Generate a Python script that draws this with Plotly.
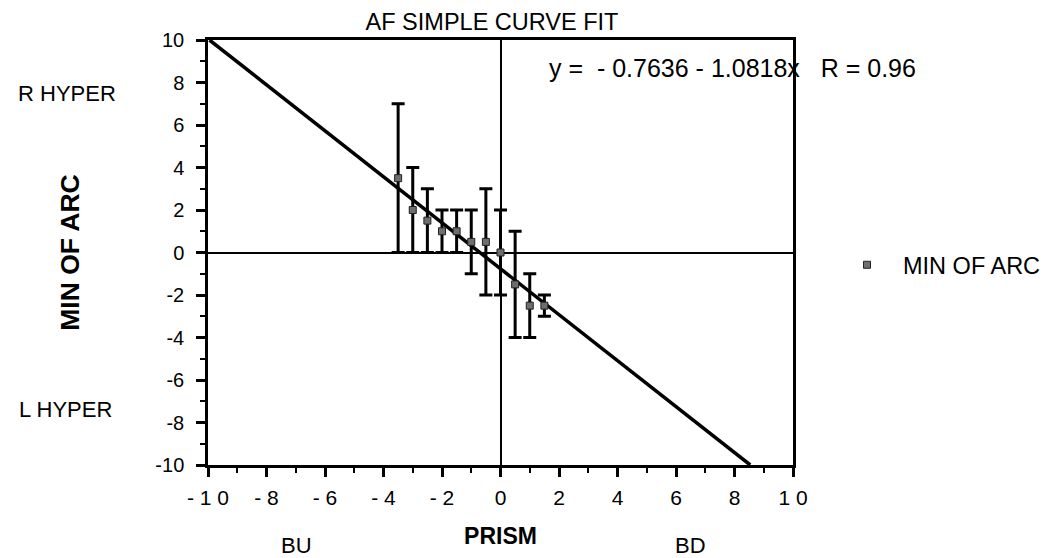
import plotly.graph_objects as go

# Data
prism = [-3.5, -3.0, -2.5, -2.0, -1.5, -1.0, -0.5, 0.0, 0.5, 1.0, 1.5]
min_of_arc = [3.5, 2.0, 1.5, 1.0, 1.0, 0.5, 0.5, 0.0, -1.5, -2.5, -2.5]
err = [3.5, 2.0, 1.5, 1.0, 1.0, 1.5, 2.5, 2.0, 2.5, 1.5, 0.5]

# Fit coefficients as printed on the chart
intercept = -0.7636
slope = -1.0818
r_value = 0.96

x_ticks = [-10, -8, -6, -4, -2, 0, 2, 4, 6, 8, 10]
x_ticktext = ["- 1 0", "- 8", "- 6", "- 4", "- 2", "0", "2", "4", "6", "8", "1 0"]
y_ticks = [-10, -8, -6, -4, -2, 0, 2, 4, 6, 8, 10]
y_ticktext = ["-10", "-8", "-6", "-4", "-2", "0", "2", "4", "6", "8", "10"]

# fit line end points where it meets the y = +/-10 frame
x_start = (10 - intercept) / slope
x_end = (-10 - intercept) / slope
fit_x = [x_start, x_end]
fit_y = [intercept + slope * x for x in fit_x]

FONT = "Liberation Sans, Arial, Helvetica, sans-serif"
W, H = 1050, 558
L, R, T, B = 208, 257, 40, 93
PW, PH = W - L - R, H - T - B


def px(x):
    return (x - L) / PW


def py(y):
    return (H - B - y) / PH


fig = go.Figure()
fig.add_trace(go.Scatter(
    x=fit_x, y=fit_y, mode="lines",
    line=dict(color="black", width=3.5),
    showlegend=False, hoverinfo="skip",
))
fig.add_trace(go.Scatter(
    x=prism, y=min_of_arc, mode="markers", name="MIN OF ARC",
    marker=dict(symbol="square", size=7, color="#6e6e6e",
                line=dict(color="#222222", width=1)),
    error_y=dict(type="data", array=err, visible=True,
                 color="black", thickness=3, width=6.5),
))

axis_common = dict(
    showgrid=False,
    showline=True, mirror=True, linecolor="black", linewidth=2.5,
    zeroline=True, zerolinecolor="black", zerolinewidth=2,
    ticks="outside", ticklen=9, tickwidth=2.5, tickcolor="black",
    minor=dict(ticks="outside", dtick=1, ticklen=5, tickwidth=2, tickcolor="black"),
)

fig.update_xaxes(
    range=[-10, 10], tickmode="array", tickvals=x_ticks, ticktext=x_ticktext,
    tickfont=dict(family=FONT, size=21, color="black"),
    ticklabelstandoff=3,
    title=dict(text="<b>PRISM</b>", font=dict(family=FONT, size=23, color="black"),
               standoff=20),
    **axis_common,
)
fig.update_yaxes(
    range=[-10, 10], tickmode="array", tickvals=y_ticks, ticktext=y_ticktext,
    tickfont=dict(family=FONT, size=20, color="black"),
    ticklabelstandoff=8,
    title=dict(text="<b>MIN OF ARC</b>", font=dict(family=FONT, size=26.5, color="black"),
               standoff=69),
    **axis_common,
)

annotations = [
    dict(text=f"y =  - {abs(intercept):.4f} - {abs(slope):.4f}x   R = {r_value:.2f}",
         xref="paper", yref="paper", x=px(547), y=py(68),
         xanchor="left", yanchor="middle", showarrow=False,
         font=dict(family=FONT, size=25, color="black")),
    dict(text="R HYPER", xref="paper", yref="paper",
         x=px(16), y=py(93), xanchor="left", yanchor="middle",
         showarrow=False, font=dict(family=FONT, size=22, color="black")),
    dict(text="L HYPER", xref="paper", yref="paper",
         x=px(17), y=py(409), xanchor="left", yanchor="middle",
         showarrow=False, font=dict(family=FONT, size=22, color="black")),
    dict(text="BU", xref="paper", yref="paper",
         x=px(296), y=py(545), xanchor="center", yanchor="middle",
         showarrow=False, font=dict(family=FONT, size=22, color="black")),
    dict(text="BD", xref="paper", yref="paper",
         x=px(690), y=py(545), xanchor="center", yanchor="middle",
         showarrow=False, font=dict(family=FONT, size=22, color="black")),
]

fig.update_layout(
    width=W, height=H,
    margin=dict(l=L, r=R, t=T, b=B),
    paper_bgcolor="white", plot_bgcolor="white",
    title=dict(text="AF SIMPLE CURVE FIT", x=492 / W, xanchor="center",
               y=1 - 22 / H, yanchor="middle",
               font=dict(family=FONT, size=23.5, color="black")),
    font=dict(family=FONT, color="black"),
    showlegend=True,
    legend=dict(xref="container", yref="container",
                x=831 / W, y=(H - 265) / H, xanchor="left", yanchor="middle",
                itemwidth=62,
                font=dict(family=FONT, size=23.5, color="black"),
                bgcolor="rgba(0,0,0,0)"),
    annotations=annotations,
)

fig.write_html("out.html")
